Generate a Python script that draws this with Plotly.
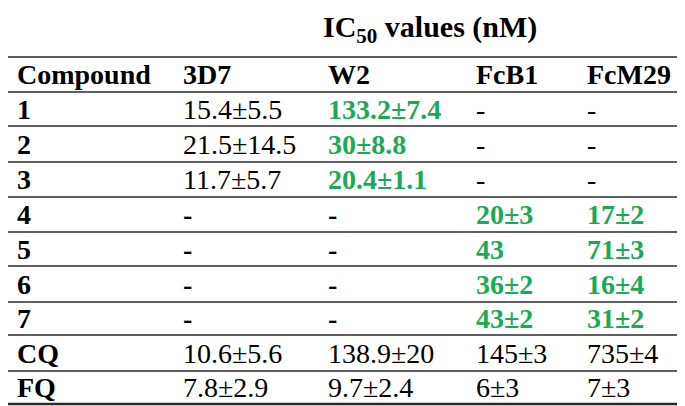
import plotly.graph_objects as go

title_text = "IC<sub>50</sub> values (nM)"
columns = ["Compound", "3D7", "W2", "FcB1", "FcM29"]
compounds = ["1", "2", "3", "4", "5", "6", "7", "CQ", "FQ"]
v_3d7 = ["15.4±5.5", "21.5±14.5", "11.7±5.7", "-", "-", "-", "-", "10.6±5.6", "7.8±2.9"]
v_w2 = ["133.2±7.4", "30±8.8", "20.4±1.1", "-", "-", "-", "-", "138.9±20", "9.7±2.4"]
v_fcb1 = ["-", "-", "-", "20±3", "43", "36±2", "43±2", "145±3", "6±3"]
v_fcm29 = ["-", "-", "-", "17±2", "71±3", "16±4", "31±2", "735±4", "7±3"]
# highlighted (green bold) cells: (row index, column index)
highlight = {(0, 2), (1, 2), (2, 2), (3, 3), (3, 4), (4, 3), (4, 4),
             (5, 3), (5, 4), (6, 3), (6, 4)}

W, H = 685, 406
OFF = 8  # page body margin
col_x = [15, 181, 326, 474, 585]
rule_y = [1, 57, 92, 126, 162, 197, 232, 266, 302, 335, 371, 404]
FONT = "Liberation Serif, Times New Roman, serif"
FS = 28
GREEN = "#1aaa55"

fig = go.Figure()
fig.add_trace(go.Scatter(x=[OFF, W], y=[OFF, H], mode="markers",
                         marker=dict(opacity=0), hoverinfo="skip", showlegend=False))

ann = []
ann.append(dict(x=430, y=29, text="<b>" + title_text + "</b>", showarrow=False,
                xanchor="center", yanchor="middle",
                font=dict(family=FONT, size=30, color="black")))
hy = (rule_y[1] + rule_y[2]) / 2
for j, c in enumerate(columns):
    ann.append(dict(x=col_x[j], y=hy, text="<b>" + c + "</b>", showarrow=False,
                    xanchor="left", yanchor="middle",
                    font=dict(family=FONT, size=FS, color="black")))
cols = [compounds, v_3d7, v_w2, v_fcb1, v_fcm29]
for i in range(len(compounds)):
    cy = (rule_y[i + 2] + rule_y[i + 3]) / 2
    for j in range(5):
        t = cols[j][i]
        if j == 0:
            txt, color = "<b>" + t + "</b>", "black"
        elif (i, j) in highlight:
            txt, color = "<b>" + t + "</b>", GREEN
        elif t == "-" and i >= 3:
            txt, color = "<b>" + t + "</b>", "black"
        else:
            txt, color = t, "black"
        ann.append(dict(x=col_x[j], y=cy, text=txt, showarrow=False,
                        xanchor="left", yanchor="middle",
                        font=dict(family=FONT, size=FS, color=color)))

shapes = []
for k, yy in enumerate(rule_y):
    w = 2.5 if k in (0, len(rule_y) - 1) else 1.5
    shapes.append(dict(type="line", x0=OFF, x1=W, y0=yy, y1=yy,
                       line=dict(color="#2a2a2a", width=w)))

fig.update_layout(
    width=W - OFF, height=H - OFF, margin=dict(l=0, r=0, t=0, b=0),
    paper_bgcolor="white", plot_bgcolor="white",
    xaxis=dict(range=[OFF, W], visible=False, fixedrange=True),
    yaxis=dict(range=[H, OFF], visible=False, fixedrange=True),
    annotations=ann, shapes=shapes,
)
fig.write_html("out.html")
